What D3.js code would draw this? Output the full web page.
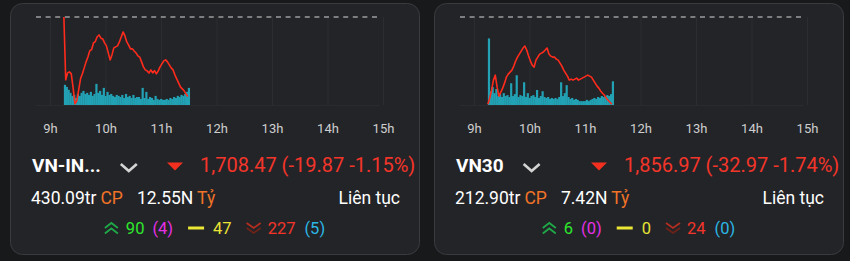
<!DOCTYPE html>
<html>
<head>
<meta charset="utf-8">
<script src="https://cdn.jsdelivr.net/npm/d3@7"></script>
<style>
  body { margin: 0; background: #18191b; }
  svg { display: block; font-family: Roboto, "Noto Sans", sans-serif; }
</style>
</head>
<body>
<div id="chart"></div>
<script>
// Index names and summary figures
var names = ["VN-IN...", "VN30"];
var refPrices = [1728.34, 1889.94];
var lastPrices = ["1,708.47", "1,856.97"];
var changes = ["(-19.87 -1.15%)", "(-32.97 -1.74%)"];
var volumes = ["430.09tr", "212.90tr"];
var values = ["12.55N", "7.42N"];
var sessionText = ["Liên tục", "Liên tục"];
var advances = [90, 6];
var advCeil = [4, 0];
var unchanged = [47, 0];
var declines = [227, 24];
var decFloor = [5, 0];

// x axis ticks (hours)
var hourTicks = [9, 10, 11, 12, 13, 14, 15];

// intraday series, one point every 2 minutes from 9:15
var startMinute = 15;
var stepMinute = 2;

var priceVNI = [1728.34, 1712.63, 1714.37, 1714.62, 1714.13, 1710.63, 1706.64, 1707.39, 1710.14, 1712.88,
  1714.13, 1715.62, 1717.12, 1718.36, 1719.9, 1720.2, 1721.86, 1722.2, 1723.4, 1723.85,
  1723.05, 1722.85, 1721.86, 1721.11, 1719.36, 1717.62, 1718.86, 1720.61, 1720.86, 1721.11,
  1722.11, 1723.35, 1724.60, 1723.60, 1722.11, 1721.31, 1720.36, 1720.41, 1719.86, 1719.36,
  1718.61, 1718.32, 1717.12, 1715.87, 1715.12, 1714.87, 1714.32, 1715.12, 1714.37, 1714.92,
  1714.13, 1714.87, 1715.87, 1716.62, 1717.37, 1717.62, 1717.12, 1716.37, 1715.62, 1715.12,
  1713.88, 1712.88, 1711.88, 1710.88, 1710.38, 1709.89, 1709.14, 1708.47];

var priceVN30 = [1856.97, 1859.25, 1862.28, 1866.07, 1867.96, 1863.41, 1860.00, 1861.52, 1863.04, 1864.93,
  1867.20, 1868.34, 1869.10, 1869.86, 1871.37, 1873.27, 1874.78, 1875.92, 1877.06, 1878.19,
  1878.95, 1877.44, 1875.16, 1873.27, 1871.75, 1870.99, 1873.65, 1874.78, 1875.92, 1876.30,
  1876.68, 1877.44, 1878.19, 1875.92, 1875.16, 1874.78, 1874.78, 1874.02, 1873.65, 1872.51,
  1871.37, 1869.86, 1868.72, 1867.58, 1866.07, 1866.45, 1866.07, 1866.45, 1866.83, 1866.07,
  1866.45, 1866.83, 1867.20, 1867.58, 1867.96, 1867.58, 1867.20, 1866.07, 1864.93, 1863.79,
  1863.04, 1861.90, 1861.14, 1860.38, 1859.25, 1858.49, 1857.73, 1856.97];

// matched volume per 2 minutes (million shares)
var volVNI = [12.6, 11.3, 9.5, 7.6, 5.7, 6.3, 4.4, 6.9, 5.7, 7.6,
  8.8, 6.9, 7.6, 6.3, 8.2, 5.7, 6.9, 13.2, 7.6, 8.8,
  6.3, 10.7, 5.7, 8.2, 6.3, 6.9, 5.7, 5.0, 6.3, 5.7,
  5.0, 6.3, 4.4, 6.9, 5.0, 5.7, 4.4, 6.3, 4.4, 5.0,
  5.0, 3.8, 10.7, 4.4, 8.2, 3.8, 5.0, 4.4, 3.2, 5.7,
  3.8, 3.2, 3.8, 3.2, 3.2, 3.8, 3.2, 4.4, 3.8, 5.0,
  4.4, 5.7, 5.0, 6.3, 5.7, 6.9, 8.2, 10.7];

var volVN30 = [20.8, 4.3, 5.6, 3.7, 5.0, 2.8, 3.4, 2.5, 3.7, 2.8,
  3.1, 2.5, 6.8, 2.8, 3.4, 9.3, 2.5, 3.1, 2.8, 7.1,
  2.5, 3.7, 2.2, 2.8, 3.1, 2.5, 4.7, 2.2, 2.8, 4.3,
  2.5, 2.2, 2.5, 1.9, 2.2, 1.9, 2.2, 1.9, 2.5, 7.1,
  2.8, 3.7, 6.2, 2.5, 1.9, 2.2, 1.6, 1.9, 1.6, 1.2,
  1.2, 1.2, 1.2, 1.6, 1.2, 1.6, 1.9, 2.2, 1.9, 2.5,
  2.2, 2.8, 2.5, 2.8, 3.1, 2.8, 3.4, 7.4];

var prices = [priceVNI, priceVN30];
var vols = [volVNI, volVN30];
var volMax = [55, 27.5];

var svgWidth = 850;
var svgHeight = 261;

var svg = d3.select("#chart")
  .append("svg")
  .attr("width", svgWidth)
  .attr("height", svgHeight);

var cardLeft = [10.5, 434.5];
var cardW = 409, cardH = 251;
var plotTop = 17, plotBottom = 105;

function hourOf(i) {
  return 9 + (startMinute + i * stepMinute) / 60;
}

for (var c = 0; c < 2; c++) {
  var off = cardLeft[c] - 10.5;
  var g = svg.append("g").attr("transform", `translate(${off},0)`);

  g.append("rect")
    .attr("x", 10.5).attr("y", 3.5)
    .attr("width", cardW).attr("height", cardH)
    .attr("rx", 12)
    .attr("fill", "#232427")
    .attr("stroke", "#3a3b3e");

  var x = d3.scaleLinear().domain([9, 15]).range([50, 383]);
  var yPrice = d3.scaleLinear()
    .domain([d3.min(prices[c]) - 0.3, refPrices[c]])
    .range([plotBottom, plotTop]);
  var yVol = d3.scaleLinear().domain([0, volMax[c]]).range([plotBottom, plotTop]);

  // grid
  g.append("g")
    .attr("transform", `translate(0,${plotBottom})`)
    .call(d3.axisBottom(x).tickValues(hourTicks).tickSize(-(plotBottom - plotTop)).tickFormat(""))
    .call(a => a.select(".domain").remove())
    .call(a => a.selectAll("line").attr("stroke", "#2c2d30"));

  g.append("line")
    .attr("x1", 36).attr("x2", 380)
    .attr("y1", plotBottom + 0.5).attr("y2", plotBottom + 0.5)
    .attr("stroke", "#2a2b2e");

  // tick labels
  g.append("g")
    .attr("transform", `translate(0,${plotBottom + 16})`)
    .call(d3.axisBottom(x).tickValues(hourTicks).tickSize(0).tickFormat(d => d + "h"))
    .call(a => a.select(".domain").remove())
    .call(a => a.selectAll("text")
      .attr("fill", "#cfcfcf")
      .style("font-size", "13px")
      .style("font-family", "Roboto"));

  // reference line
  g.append("line")
    .attr("x1", 36).attr("x2", 380)
    .attr("y1", yPrice(refPrices[c])).attr("y2", yPrice(refPrices[c]))
    .attr("stroke", "#d8d8d8")
    .attr("stroke-dasharray", "5,4.6");

  // volume bars
  var barW = x(9 + stepMinute / 60) - x(9);
  g.append("g")
    .selectAll("rect")
    .data(vols[c])
    .enter()
    .append("rect")
    .attr("x", (d, i) => x(hourOf(i)))
    .attr("y", d => yVol(d))
    .attr("width", barW + 0.35)
    .attr("height", d => plotBottom - yVol(d))
    .attr("fill", "#22a2b4");

  // price line
  var line = d3.line()
    .x((d, i) => x(hourOf(i)))
    .y(d => yPrice(d));
  g.append("path")
    .datum(prices[c])
    .attr("d", line)
    .attr("fill", "none")
    .attr("stroke", "#ff2b1c")
    .attr("stroke-width", 1.6)
    .attr("stroke-linejoin", "round");

  // name row
  var nameText = g.append("text")
    .attr("x", 32).attr("y", 172)
    .attr("fill", "#ffffff")
    .style("font-size", "19px")
    .style("font-weight", "bold")
    .text(names[c]);
  var nameEnd = 32 + nameText.node().getComputedTextLength();
  var chevX = nameEnd + 20;
  g.append("path")
    .attr("d", `M${chevX},${164} l8,7 l8,-7`)
    .attr("fill", "none")
    .attr("stroke", "#d4d4d4")
    .attr("stroke-width", 2.6);

  g.append("path")
    .attr("d", "M167,162.5 L183,162.5 L175,170.5 Z")
    .attr("fill", "#f3301f");

  g.append("text")
    .attr("x", 200).attr("y", 172)
    .attr("fill", "#f3352a")
    .style("font-size", "20px")
    .text(lastPrices[c] + " " + changes[c]);

  // volume / value row
  var row3 = g.append("text")
    .attr("x", 31).attr("y", 204)
    .style("font-size", "17.5px");
  row3.append("tspan").attr("fill", "#ffffff").text(volumes[c]);
  row3.append("tspan").attr("fill", "#f07328").attr("dx", 4).text("CP");
  row3.append("tspan").attr("fill", "#ffffff").attr("dx", 14).text(values[c]);
  row3.append("tspan").attr("fill", "#f07328").attr("dx", 4).text("Tỷ");

  g.append("text")
    .attr("x", 400).attr("y", 204)
    .attr("text-anchor", "end")
    .attr("fill", "#ffffff")
    .style("font-size", "17.5px")
    .text(sessionText[c]);

  // breadth row, laid out left to right then centred
  var row = g.append("g");
  var cx = 0;
  var by = 233.5;
  row.append("path")
    .attr("d", `M${cx},228 l6.5,-5 l6.5,5 M${cx},233.5 l6.5,-5 l6.5,5`)
    .attr("fill", "none").attr("stroke", "#1fa848").attr("stroke-width", 1.8);
  cx += 13 + 8;
  function addText(str, color, gapAfter) {
    var t = row.append("text")
      .attr("x", cx).attr("y", by)
      .attr("fill", color)
      .style("font-size", "16.5px")
      .text(str);
    cx += t.node().getComputedTextLength() + gapAfter;
  }
  addText(advances[c], "#2de82d", 8);
  addText("(" + advCeil[c] + ")", "#e530e5", 15);
  row.append("rect")
    .attr("x", cx).attr("y", 226.5)
    .attr("width", 16).attr("height", 3)
    .attr("fill", "#ece635");
  cx += 16 + 9;
  addText(unchanged[c], "#e8e335", 15);
  row.append("path")
    .attr("d", `M${cx},223 l7,5 l7,-5`)
    .attr("fill", "none").attr("stroke", "#b52d20").attr("stroke-width", 1.8);
  row.append("path")
    .attr("d", `M${cx},228 l7,5 l7,-5`)
    .attr("fill", "none").attr("stroke", "#6e2218").attr("stroke-width", 1.8);
  cx += 14 + 7;
  addText(declines[c], "#f3352a", 9);
  addText("(" + decFloor[c] + ")", "#2bb7e6", 0);
  var rowCenter = 10.5 + cardW / 2;
  row.attr("transform", `translate(${rowCenter - cx / 2},0)`);
}
</script>
</body>
</html>
